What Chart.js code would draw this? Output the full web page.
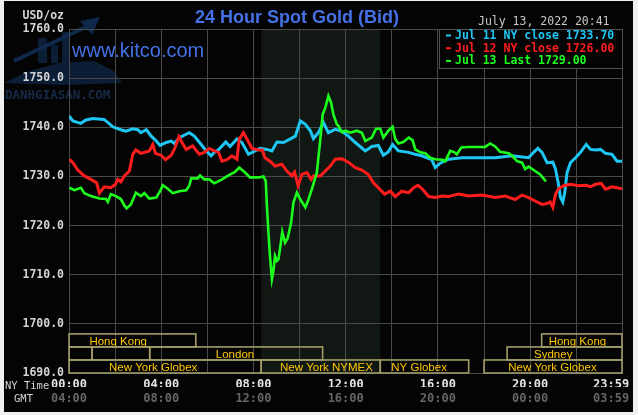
<!DOCTYPE html>
<html>
<head>
<meta charset="utf-8">
<script src="https://cdn.jsdelivr.net/npm/chart.js@4.4.1/dist/chart.umd.min.js"></script>
<style>
    html, body { margin: 0; padding: 0; background: #f0f0f0; }
    #wrap { position: absolute; left: 4px; top: 1px; width: 629px; height: 411px; background: #040404; }
</style>
</head>
<body>
<div id="wrap"><canvas id="gold-chart" width="629" height="411"></canvas></div>
<script>
        // Time axis in minutes after midnight (NY time)
        const gridTimes = [0, 120, 240, 360, 480, 600, 720, 840, 960, 1080, 1200, 1320, 1439];
        const tickTimes = [0, 240, 480, 720, 960, 1200, 1439];
        const nyTimeLabels = ['00:00', '04:00', '08:00', '12:00', '16:00', '20:00', '23:59'];
        const gmtTimeLabels = ['04:00', '08:00', '12:00', '16:00', '20:00', '00:00', '03:59'];
        const priceTicks = [1690, 1700, 1710, 1720, 1730, 1740, 1750, 1760];

        // Legend
        const seriesNames = ['Jul 11 NY close', 'Jul 12 NY close', 'Jul 13 Last'];
        const seriesLast = [1733.70, 1726.00, 1729.00];

        // Jul 11 (cyan)
        const jul11Times = [0, 10, 31, 44, 62, 91, 104, 114, 135, 148,
            166, 179, 187, 201, 214, 227, 237, 253, 266, 274,
            287, 313, 326, 344, 357, 370, 378,
            389, 408, 419, 437, 450, 467, 484, 497, 515, 528,
            541, 558, 575, 589, 602, 615, 628, 636, 649, 662,
            675, 693,
            710, 727, 745, 771, 788, 805, 818, 831, 842, 857,
            884, 901, 918, 944, 953, 966, 988, 1023, 1083,
            1109, 1153, 1196, 1209, 1220, 1231, 1244, 1259, 1266, 1273,
            1279, 1285, 1290, 1296, 1305, 1318, 1331, 1346, 1357, 1370,
            1383, 1396, 1413, 1426, 1439];
        const jul11Values = [1742.3, 1741.3, 1740.8, 1741.5, 1741.8, 1741.6, 1740.8, 1740.1, 1739.5, 1739.2,
            1739.7, 1739.5, 1738.9, 1739.5, 1738.2, 1737.2, 1736.3, 1736.9, 1737.2, 1736.7,
            1737.9, 1738.9, 1738.2, 1736.5, 1735.2, 1734.2, 1734.9,
            1735.4, 1737.0, 1736.1, 1737.6, 1736.9, 1734.5, 1735.2, 1735.7, 1735.5, 1735.2,
            1737.0, 1736.9, 1737.6, 1738.2, 1741.3, 1740.6, 1739.3, 1737.7, 1738.9, 1741.0,
            1738.9, 1739.6,
            1739.2, 1738.2, 1736.9, 1735.2, 1736.1, 1736.3, 1734.3, 1735.0, 1736.5, 1735.2,
            1734.9, 1734.5, 1734.2, 1733.4, 1731.8, 1732.7, 1733.5, 1733.8, 1733.8,
            1733.8, 1734.2, 1733.8, 1734.9, 1735.7, 1734.9, 1732.8, 1732.9, 1731.5, 1728.7,
            1725.7, 1724.8, 1726.7, 1730.8, 1732.8, 1733.8, 1734.9, 1736.5, 1735.5, 1735.4,
            1735.5, 1734.7, 1734.5, 1733.1, 1733.1];

        // Jul 12 (red)
        const jul12Times = [1, 10, 23, 40, 57, 72, 79, 92, 109, 121,
            127, 135, 144, 157, 166, 174, 187, 209, 218, 225,
            240, 251, 266, 274, 286, 294, 305, 322, 339, 352,
            365, 378, 389, 398, 411, 424, 437, 443, 454, 463,
            476, 493, 503, 510, 523, 536, 554, 567, 580, 587,
            596, 606, 619, 630, 636, 654, 667, 680, 693, 710,
            727, 745, 762, 779, 792, 805, 821, 836, 849, 866,
            884, 897, 908, 920, 936, 953, 971, 988, 1014, 1040,
            1075, 1109, 1135, 1161, 1179, 1196, 1213, 1231, 1244, 1252,
            1259, 1266, 1274, 1287, 1305, 1326, 1344, 1357, 1370, 1385,
            1396, 1413, 1426, 1439];
        const jul12Values = [1733.5, 1732.8, 1731.3, 1730.1, 1729.4, 1728.7, 1726.6, 1727.9, 1727.7, 1728.4,
            1729.4, 1728.9, 1730.1, 1731.1, 1734.5, 1735.4, 1734.7, 1735.2, 1736.5, 1734.7,
            1734.3, 1733.4, 1734.3, 1735.5, 1738.1, 1736.9, 1735.5, 1736.2, 1734.5, 1734.9,
            1735.7, 1735.2, 1734.9, 1733.1, 1733.4, 1734.2, 1733.5, 1737.6, 1738.9, 1737.6,
            1735.7, 1735.4, 1735.4, 1733.8, 1733.1, 1732.1, 1732.5, 1731.1, 1730.1, 1730.9,
            1728.1, 1730.4, 1730.8, 1729.4, 1730.1, 1730.1, 1731.1, 1732.1, 1733.5, 1733.6,
            1732.9, 1731.8, 1731.3, 1730.4, 1728.7, 1727.7, 1726.4, 1727.0, 1725.9, 1727.0,
            1726.7, 1727.7, 1728.2, 1727.4, 1725.9, 1725.7, 1726.0, 1725.9, 1726.4, 1726.0,
            1726.2, 1725.7, 1726.0, 1725.3, 1726.2, 1725.7, 1725.0, 1724.3, 1724.5, 1724.8,
            1723.7, 1726.4, 1727.5, 1728.1, 1728.4, 1728.1, 1728.2, 1727.9, 1728.4, 1728.6,
            1727.4, 1727.9, 1727.7, 1727.5];

        // Jul 13 (green, up to 20:41)
        const jul13Times = [1, 14, 31, 40, 57, 79, 96, 101, 109, 122,
            135, 144, 150, 161, 174, 187, 196, 209, 227, 237,
            244, 257, 270, 287, 305, 313, 318, 335, 341, 352,
            365, 378, 398, 415, 432, 443, 458, 471, 493, 506,
            512, 515, 519, 523, 528, 532, 536, 541, 545, 549,
            555, 562, 569, 578, 584, 593, 602, 615, 623, 632,
            645, 654, 660, 667, 675, 682, 688, 697, 701, 710,
            719, 732, 749, 762, 771, 788, 799, 810, 818, 831,
            842, 849, 857, 870, 884, 894, 901, 914, 927, 940,
            953, 971, 979, 992, 1003, 1009, 1021, 1040, 1083, 1096,
            1109, 1122, 1144, 1153, 1166, 1179, 1187, 1196, 1209, 1226,
            1241];
        const jul13Values = [1727.7, 1727.2, 1727.7, 1726.6, 1726.0, 1725.5, 1725.4, 1724.8, 1726.4, 1726.0,
            1725.4, 1724.1, 1723.5, 1724.3, 1726.7, 1726.0, 1726.6, 1725.5, 1725.7, 1727.0,
            1728.2, 1727.5, 1726.6, 1727.0, 1727.2, 1728.1, 1729.6, 1729.6, 1730.2, 1729.4,
            1729.4, 1728.6, 1729.4, 1730.2, 1730.9, 1731.8, 1730.8, 1729.8, 1729.8, 1730.0,
            1729.1, 1724.0, 1718.6, 1713.8, 1709.1, 1710.8, 1713.8, 1712.8, 1713.1, 1715.2,
            1718.7, 1716.5, 1717.4, 1720.6, 1724.7, 1726.7, 1725.3, 1723.7, 1725.3, 1727.4,
            1730.8, 1737.6, 1742.6, 1744.0, 1746.4, 1745.0, 1742.6, 1740.6, 1740.3, 1739.0,
            1739.3, 1738.9, 1739.3, 1738.9, 1737.2, 1737.9, 1739.7, 1739.7, 1737.9, 1739.3,
            1740.1, 1737.6, 1736.7, 1737.0, 1737.9, 1737.4, 1735.5, 1734.9, 1734.7, 1733.8,
            1733.5, 1733.4, 1733.1, 1735.2, 1734.9, 1734.5, 1735.9, 1736.0, 1736.0, 1736.7,
            1736.1, 1735.0, 1734.7, 1734.2, 1733.1, 1732.8, 1731.5, 1732.0, 1731.3, 1730.4,
            1729.0];

        // NYMEX trading hours (shaded)
        const nymexHours = [500, 810];

        // Trading sessions shown at the bottom
        const sessionNames = ['Hong Kong', 'Hong Kong', '', '', 'London', 'Sydney',
            'New York Globex', 'New York NYMEX', 'NY Globex', 'New York Globex'];
        const sessionRows = [0, 0, 1, 1, 1, 1, 2, 2, 2, 2];
        const sessionStart = [0, 1230, 0, 60, 210, 1140, 0, 500, 810, 1080];
        const sessionEnd = [330, 1439, 60, 210, 660, 1439, 500, 810, 1040, 1439];
        const sessionLabelAt = [128, 1323, 30, 135, 432, 1260, 219, 670, 911, 1258];

        const seriesColors = ['#1ec6f4', '#ff1c1c', '#1cff1c'];
        const monoFont = "'DejaVu Sans Mono', monospace";
        const rowEdges = [1697.95, 1695.3, 1692.65, 1690];

        function toPoints(times, values) {
            return times.map((t, i) => ({ x: t, y: values[i] }));
        }

        function timeLabel(value, labels) {
            const i = tickTimes.indexOf(value);
            if (i < 0) return '';
            // last label sits left of the final tick
            return i === tickTimes.length - 1 ? labels[i] + '   ' : labels[i];
        }

        // Background shading, session boxes, legend and texts
        const kitcoDecor = {
            id: 'kitcoDecor',
            beforeDraw(chart) {
                const { ctx, chartArea } = chart;
                const x = chart.scales.x;
                ctx.save();
                ctx.fillStyle = '#040404';
                ctx.fillRect(0, 0, chart.width, chart.height);

                // faint watermark
                ctx.fillStyle = '#0c1e36';
                ctx.fillRect(34, 37, 9, 25);
                ctx.fillRect(47, 44, 7, 18);
                ctx.fillRect(58, 31, 7, 31);
                ctx.beginPath();
                ctx.moveTo(0, 82); ctx.lineTo(25, 70); ctx.lineTo(55, 62); ctx.lineTo(90, 60);
                ctx.lineTo(110, 70); ctx.lineTo(118, 82); ctx.lineTo(60, 84);
                ctx.closePath(); ctx.fill();
                ctx.strokeStyle = '#0f284c'; ctx.lineWidth = 4;
                ctx.beginPath(); ctx.moveTo(10, 60); ctx.lineTo(86, 24); ctx.stroke();
                ctx.fillStyle = '#0f284c';
                ctx.beginPath(); ctx.moveTo(76, 20); ctx.lineTo(96, 16); ctx.lineTo(88, 34); ctx.closePath(); ctx.fill();
                ctx.font = "bold 12.5px " + monoFont;
                ctx.fillStyle = '#172b48';
                ctx.textBaseline = 'alphabetic';
                ctx.fillText('DANHGIASAN.COM', 1, 98);

                const left = x.getPixelForValue(nymexHours[0]);
                const right = x.getPixelForValue(nymexHours[1]);
                ctx.fillStyle = '#111712';
                ctx.fillRect(left, chartArea.top, right - left, chartArea.bottom - chartArea.top);
                ctx.restore();
            },
            afterDraw(chart) {
                const { ctx } = chart;
                const x = chart.scales.x;
                const y = chart.scales.y;
                ctx.save();

                // sessions
                ctx.strokeStyle = '#a29d68';
                ctx.lineWidth = 1.6;
                ctx.font = "11.5px 'Liberation Sans', Arial, sans-serif";
                ctx.fillStyle = '#ffc800';
                ctx.textAlign = 'center';
                ctx.textBaseline = 'middle';
                sessionNames.forEach((name, i) => {
                    const r = sessionRows[i];
                    const x1 = x.getPixelForValue(sessionStart[i]);
                    const x2 = x.getPixelForValue(sessionEnd[i]);
                    const y1 = y.getPixelForValue(rowEdges[r]);
                    const y2 = y.getPixelForValue(rowEdges[r + 1]);
                    ctx.strokeRect(x1, y1, x2 - x1, y2 - y1);
                    if (name) ctx.fillText(name, x.getPixelForValue(sessionLabelAt[i]), (y1 + y2) / 2 + 1);
                });

                // legend box
                ctx.fillStyle = '#040404';
                ctx.fillRect(435, 28, 183, 39);
                ctx.strokeStyle = '#505050';
                ctx.lineWidth = 1;
                ctx.strokeRect(435.5, 28.5, 183, 39);
                ctx.font = "bold 11.5px " + monoFont;
                ctx.textAlign = 'left';
                seriesNames.forEach((name, i) => {
                    const cy = 34.5 + i * 12.7;
                    ctx.fillStyle = seriesColors[i];
                    ctx.fillRect(442, cy - 1, 5, 2);
                    ctx.fillText(name + ' ' + seriesLast[i].toFixed(2), 451, cy + 0.5);
                });

                // titles
                ctx.textBaseline = 'alphabetic';
                ctx.fillStyle = '#4570e6';
                ctx.textAlign = 'center';
                ctx.font = "bold 18px 'Liberation Sans', Arial, sans-serif";
                ctx.fillText('24 Hour Spot Gold (Bid)', 293, 22);
                ctx.textAlign = 'left';
                ctx.font = "20px 'Liberation Sans', Arial, sans-serif";
                ctx.fillText('www.kitco.com', 68, 56);

                ctx.textBaseline = 'middle';
                ctx.fillStyle = '#c8c8c8';
                ctx.font = "11.5px " + monoFont;
                ctx.fillText('July 13, 2022 20:41', 474, 21);
                ctx.fillStyle = '#d4d4d4';
                ctx.textAlign = 'right';
                ctx.font = "bold 11.5px " + monoFont;
                ctx.fillText('USD/oz', 60, 15);
                ctx.textAlign = 'left';
                ctx.font = "10.5px " + monoFont;
                ctx.fillText('NY Time', 1, 385);
                ctx.fillText('GMT', 10, 398);
                ctx.restore();
            }
        };

        const tickFont = { family: monoFont, size: 12, weight: 'bold' };

        const goldChart = new Chart(document.getElementById('gold-chart').getContext('2d'), {
            type: 'line',
            data: {
                datasets: [{
                    label: seriesNames[2],
                    data: toPoints(jul13Times, jul13Values),
                    borderColor: seriesColors[2],
                    borderWidth: 2.6,
                    order: 0
                }, {
                    label: seriesNames[1],
                    data: toPoints(jul12Times, jul12Values),
                    borderColor: seriesColors[1],
                    order: 1
                }, {
                    label: seriesNames[0],
                    data: toPoints(jul11Times, jul11Values),
                    borderColor: seriesColors[0],
                    order: 2
                }]
            },
            options: {
                responsive: false,
                animation: false,
                layout: { padding: { left: 0, right: 11, top: 28, bottom: 0 } },
                elements: {
                    point: { radius: 0 },
                    line: { borderWidth: 3, tension: 0 }
                },
                plugins: {
                    legend: { display: false },
                    tooltip: { enabled: false }
                },
                scales: {
                    x: {
                        type: 'linear',
                        position: 'bottom',
                        min: 0,
                        max: 1439,
                        afterBuildTicks: s => { s.ticks = gridTimes.map(v => ({ value: v })); },
                        afterFit: s => { s.height = 14; s.paddingLeft = 0; s.paddingRight = 0; },
                        grid: { color: '#4a4a4a', drawTicks: false },
                        border: { color: '#4a4a4a' },
                        ticks: {
                            autoSkip: false,
                            maxRotation: 0,
                            padding: 5,
                            color: '#e4e4e4',
                            font: tickFont,
                            callback: v => timeLabel(v, nyTimeLabels)
                        }
                    },
                    x2: {
                        type: 'linear',
                        position: 'bottom',
                        min: 0,
                        max: 1439,
                        afterBuildTicks: s => { s.ticks = gridTimes.map(v => ({ value: v })); },
                        afterFit: s => { s.height = 25; s.paddingLeft = 0; s.paddingRight = 0; },
                        grid: { display: false, drawTicks: false },
                        border: { display: false },
                        ticks: {
                            autoSkip: false,
                            maxRotation: 0,
                            padding: 5,
                            color: '#666666',
                            font: tickFont,
                            callback: v => timeLabel(v, gmtTimeLabels)
                        }
                    },
                    y: {
                        min: 1690,
                        max: 1760,
                        afterBuildTicks: s => { s.ticks = priceTicks.map(v => ({ value: v })); },
                        afterFit: s => { s.width = 65; },
                        grid: { color: '#4a4a4a', drawTicks: false },
                        border: { color: '#4a4a4a' },
                        ticks: {
                            padding: 5,
                            color: '#d4d4d4',
                            font: { family: monoFont, size: 11.5, weight: 'bold' },
                            callback: v => v.toFixed(1)
                        }
                    }
                }
            },
            plugins: [kitcoDecor]
        });
</script>
</body>
</html>
